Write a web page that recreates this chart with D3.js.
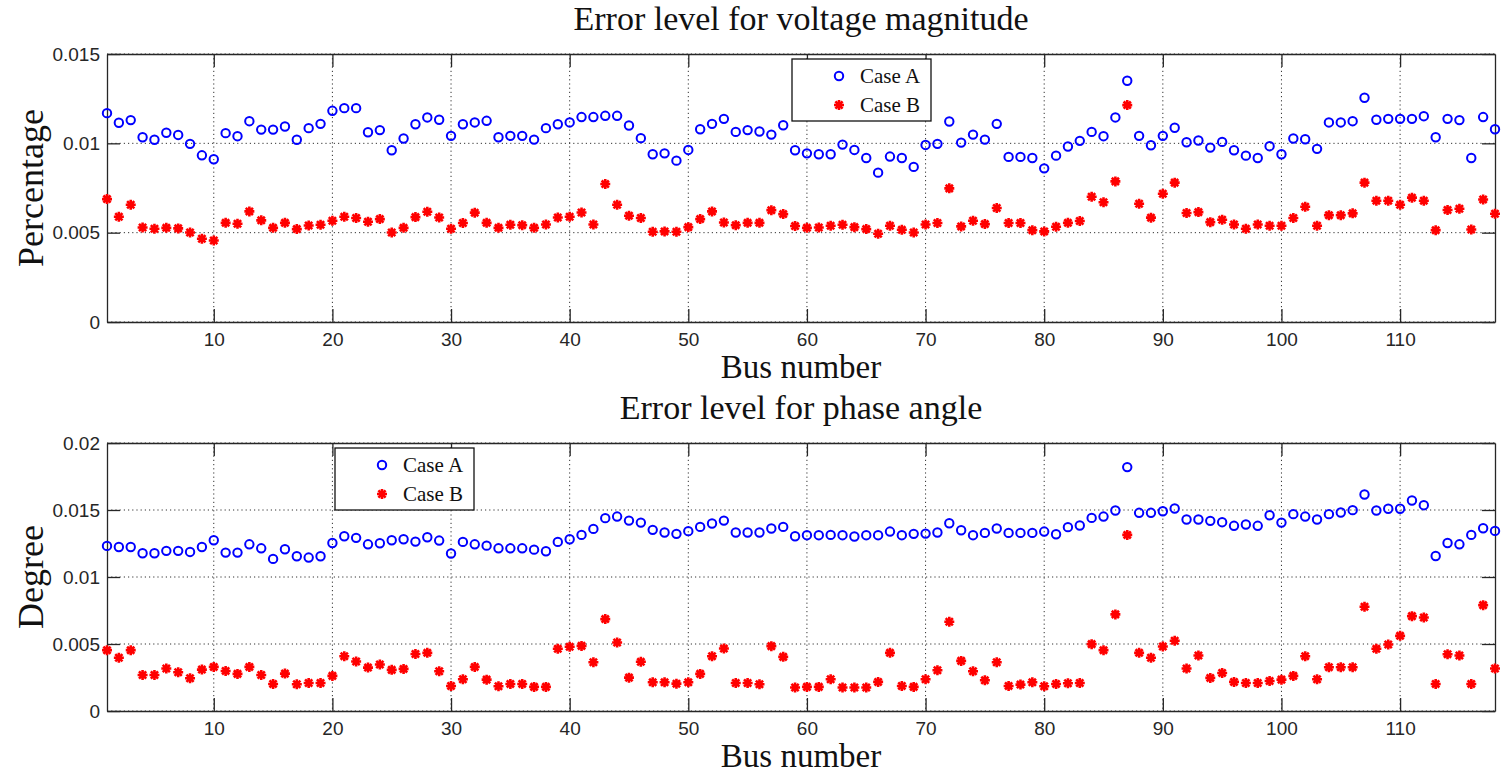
<!DOCTYPE html>
<html>
<head>
<meta charset="utf-8">
<script src="https://cdn.jsdelivr.net/npm/d3@7"></script>
<style>
  html, body { margin: 0; padding: 0; background: #fff; }
</style>
</head>
<body>
<div id="chart"></div>
<script>
// Dimensions
const width = 1507;
const height = 776;

// Data: error levels per bus (1..118)
const voltageCaseA = [
  0.01169, 0.01115, 0.0113, 0.01034, 0.0102, 0.01059, 0.01047, 0.00997, 0.00933, 0.00911,
  0.01057, 0.0104, 0.01124, 0.01077, 0.01077, 0.01094, 0.0102, 0.01085, 0.01109, 0.01182,
  0.01197, 0.01197, 0.01062, 0.01074, 0.00961, 0.01027, 0.01107, 0.01145, 0.01132, 0.01042,
  0.01107, 0.01117, 0.01126, 0.01034, 0.01042, 0.01042, 0.01021, 0.01085, 0.01107, 0.01117,
  0.01147, 0.01147, 0.01154, 0.01154, 0.011, 0.01029, 0.00939, 0.00944, 0.00903, 0.00963,
  0.01079, 0.01109, 0.01137, 0.01064, 0.01074, 0.01066, 0.01049, 0.01101, 0.00961, 0.00944,
  0.00939, 0.00939, 0.00993, 0.00963, 0.00918, 0.00836, 0.00926, 0.00918, 0.00868, 0.00991,
  0.00997, 0.01122, 0.01004, 0.01049, 0.01021, 0.01109, 0.00924, 0.00924, 0.00918, 0.0086,
  0.00931, 0.00982, 0.01014, 0.01064, 0.0104, 0.01145, 0.0135, 0.01042, 0.00989, 0.01042,
  0.01087, 0.01006, 0.01016, 0.00976, 0.01008, 0.00961, 0.00931, 0.00918, 0.00984, 0.00939,
  0.01027, 0.01023, 0.00969, 0.01117, 0.01117, 0.01124, 0.01255, 0.01132, 0.01137, 0.01137,
  0.01137, 0.01152, 0.01034, 0.01137, 0.0113, 0.00918, 0.01147, 0.01079
];
const voltageCaseB = [
  0.00688, 0.00589, 0.00656, 0.00529, 0.00522, 0.00527, 0.00524, 0.00501, 0.00466, 0.00456,
  0.00555, 0.0055, 0.00619, 0.00569, 0.00527, 0.00555, 0.0052, 0.0054, 0.00544, 0.00567,
  0.00589, 0.00582, 0.00561, 0.00576, 0.00501, 0.00527, 0.00587, 0.00617, 0.00585, 0.00522,
  0.00554, 0.00612, 0.00555, 0.00527, 0.00544, 0.00542, 0.00527, 0.00546, 0.00585, 0.00589,
  0.00613, 0.00546, 0.00772, 0.00656, 0.00595, 0.00582, 0.00505, 0.00507, 0.00505, 0.00531,
  0.00576, 0.00619, 0.00557, 0.00542, 0.00555, 0.00555, 0.00626, 0.00604, 0.00537, 0.00527,
  0.00529, 0.00539, 0.00544, 0.00531, 0.0052, 0.00494, 0.00539, 0.00516, 0.00501, 0.00546,
  0.00554, 0.00748, 0.00535, 0.00567, 0.00548, 0.00638, 0.00554, 0.00554, 0.00514, 0.00507,
  0.00533, 0.00555, 0.00565, 0.00701, 0.0067, 0.00787, 0.01214, 0.00662, 0.00584, 0.00718,
  0.0078, 0.0061, 0.00615, 0.00559, 0.00572, 0.00546, 0.00522, 0.00546, 0.00539, 0.00539,
  0.00582, 0.00645, 0.00539, 0.00598, 0.00598, 0.00608, 0.0078, 0.00679, 0.00679, 0.00656,
  0.00696, 0.00679, 0.00514, 0.00627, 0.00634, 0.00518, 0.00686, 0.00606
];
const angleCaseA = [
  0.01232, 0.01224, 0.01224, 0.01177, 0.01177, 0.01195, 0.01195, 0.01187, 0.01224, 0.01274,
  0.01182, 0.01182, 0.01244, 0.01214, 0.01135, 0.01207, 0.01155, 0.01145, 0.01155, 0.01254,
  0.01304, 0.01292, 0.01244, 0.01252, 0.01274, 0.01282, 0.01264, 0.01297, 0.01272, 0.01175,
  0.01262, 0.01244, 0.01234, 0.01214, 0.01214, 0.01214, 0.01204, 0.01192, 0.01262, 0.01282,
  0.01314, 0.01359, 0.01439, 0.01451, 0.01421, 0.01406, 0.01352, 0.01332, 0.01322, 0.01342,
  0.01374, 0.01399, 0.01421, 0.01332, 0.01332, 0.01332, 0.01362, 0.01374, 0.01304, 0.01312,
  0.01312, 0.01314, 0.01312, 0.01302, 0.01312, 0.01312, 0.01339, 0.01312, 0.01322, 0.01324,
  0.01332, 0.01401, 0.01349, 0.01312, 0.01329, 0.01362, 0.01329, 0.01329, 0.01329, 0.01339,
  0.01319, 0.01372, 0.01384, 0.01441, 0.01451, 0.01496, 0.0182, 0.01479, 0.01479, 0.01491,
  0.01511, 0.01429, 0.01429, 0.01419, 0.01409, 0.01382, 0.01392, 0.01382, 0.01461, 0.01406,
  0.01469, 0.01451, 0.01429, 0.01469, 0.01481, 0.01499, 0.01616, 0.01496, 0.01509, 0.01509,
  0.01571, 0.01536, 0.01157, 0.01254, 0.01244, 0.01314, 0.01364, 0.01344
];
const angleCaseB = [
  0.00454, 0.00397, 0.00454, 0.00269, 0.00269, 0.00317, 0.00289, 0.00244, 0.00309, 0.00329,
  0.00299, 0.00277, 0.00329, 0.00269, 0.00202, 0.00279, 0.002, 0.00209, 0.00209, 0.00262,
  0.00409, 0.00369, 0.00324, 0.00347, 0.00307, 0.00314, 0.00425, 0.00434, 0.00297, 0.00187,
  0.00237, 0.00329, 0.00234, 0.00185, 0.00202, 0.00202, 0.0018, 0.0018, 0.00464, 0.00479,
  0.00486, 0.00364, 0.00686, 0.00511, 0.00249, 0.00367, 0.00214, 0.00214, 0.00204, 0.00214,
  0.00277, 0.00409, 0.00466, 0.00209, 0.00209, 0.002, 0.00484, 0.00404, 0.00175, 0.0018,
  0.0018, 0.00237, 0.00175, 0.00175, 0.00175, 0.00217, 0.00434, 0.00187, 0.0018, 0.00237,
  0.00304, 0.00666, 0.00374, 0.00297, 0.00229, 0.00364, 0.00187, 0.00197, 0.00214, 0.00185,
  0.00202, 0.00207, 0.00209, 0.00499, 0.00454, 0.00721, 0.01314, 0.00434, 0.00397, 0.00481,
  0.00524, 0.00317, 0.00414, 0.00247, 0.00284, 0.00217, 0.00209, 0.00209, 0.00224, 0.00234,
  0.00262, 0.00409, 0.00237, 0.00327, 0.00327, 0.00327, 0.00778, 0.00464, 0.00496, 0.00561,
  0.00708, 0.00698, 0.00202, 0.00424, 0.00414, 0.00202, 0.0079, 0.00317
];

// Tick values
const xTicks = [10, 20, 30, 40, 50, 60, 70, 80, 90, 100, 110];
const voltageTicks = [0, 0.005, 0.01, 0.015];
const angleTicks = [0, 0.005, 0.01, 0.015, 0.02];
const seriesNames = ["Case A", "Case B"];

const svg = d3
  .select("#chart")
  .append("svg")
  .attr("width", width)
  .attr("height", height)
  .style("display", "block")
  .style("background", "#fff");

const serif = "'Liberation Serif', 'Times New Roman', serif";
const sans = "'Liberation Sans', Arial, sans-serif";

// Shared x scale
const x = d3.scaleLinear().domain([1, 118]).range([107, 1495]);

// Asterisk marker (MATLAB '*')
function star(cx, cy, s) {
  const d = s * 0.72;
  return `M${cx - s},${cy}L${cx + s},${cy}M${cx},${cy - s}L${cx},${cy + s}` +
    `M${cx - d},${cy - d}L${cx + d},${cy + d}M${cx - d},${cy + d}L${cx + d},${cy - d}`;
}

function drawPanel(opts) {
  const { top, bottom, yMax, yTicks, seriesA, seriesB, title, yLabel, legendX } = opts;
  const y = d3.scaleLinear().domain([0, yMax]).range([bottom, top]);
  const g = svg.append("g");
  const left = x.range()[0];
  const right = x.range()[1];

  // grid
  g.selectAll(".gx")
    .data(xTicks)
    .join("line")
    .attr("x1", d => x(d))
    .attr("x2", d => x(d))
    .attr("y1", top)
    .attr("y2", bottom)
    .attr("stroke", "#333")
    .attr("stroke-width", 1)
    .attr("stroke-dasharray", "1.2,3");

  g.selectAll(".gy")
    .data(yTicks)
    .join("line")
    .attr("x1", left)
    .attr("x2", right)
    .attr("y1", d => y(d))
    .attr("y2", d => y(d))
    .attr("stroke", "#333")
    .attr("stroke-width", 1)
    .attr("stroke-dasharray", "1.2,3");

  // axes (box with inward ticks)
  const tick = 13;
  const xAxisB = d3.axisBottom(x).tickValues(xTicks).tickSize(-tick).tickPadding(11).tickSizeOuter(0);
  const xAxisT = d3.axisTop(x).tickValues(xTicks).tickSize(-tick).tickFormat("").tickSizeOuter(0);
  const yAxisL = d3.axisLeft(y).tickValues(yTicks).tickSize(-tick).tickPadding(7).tickSizeOuter(0)
    .tickFormat(d => d === 0 ? "0" : String(+d.toFixed(3)));
  const yAxisR = d3.axisRight(y).tickValues(yTicks).tickSize(-tick).tickFormat("").tickSizeOuter(0);

  const axes = [
    g.append("g").attr("transform", `translate(0,${bottom})`).call(xAxisB),
    g.append("g").attr("transform", `translate(0,${top})`).call(xAxisT),
    g.append("g").attr("transform", `translate(${left},0)`).call(yAxisL),
    g.append("g").attr("transform", `translate(${right},0)`).call(yAxisR)
  ];
  axes.forEach(a => {
    a.select(".domain").attr("stroke", "#262626").attr("stroke-width", 1.3);
    a.selectAll(".tick line").attr("stroke", "#262626").attr("stroke-width", 1.3);
    a.selectAll(".tick text")
      .attr("font-family", sans)
      .attr("font-size", "19px")
      .attr("fill", "#262626");
  });

  // series B (red asterisks)
  g.selectAll(".b")
    .data(seriesB)
    .join("path")
    .attr("d", (d, i) => star(x(i + 1), y(d), 5))
    .attr("stroke", "#ff0000")
    .attr("stroke-width", 2.6)
    .attr("fill", "none");

  // series A (blue circles)
  g.selectAll(".a")
    .data(seriesA)
    .join("circle")
    .attr("cx", (d, i) => x(i + 1))
    .attr("cy", d => y(d))
    .attr("r", 4.2)
    .attr("fill", "none")
    .attr("stroke", "#0000ff")
    .attr("stroke-width", 2);

  // title
  svg.append("text")
    .attr("x", (left + right) / 2)
    .attr("y", top - 24)
    .attr("text-anchor", "middle")
    .attr("font-family", serif)
    .attr("font-size", "34px")
    .attr("fill", "#111")
    .text(title);

  // x label
  svg.append("text")
    .attr("x", (left + right) / 2)
    .attr("y", bottom + 56)
    .attr("text-anchor", "middle")
    .attr("font-family", serif)
    .attr("font-size", "33px")
    .attr("fill", "#111")
    .text("Bus number");

  // y label
  svg.append("text")
    .attr("transform", `translate(43,${(top + bottom) / 2}) rotate(-90)`)
    .attr("text-anchor", "middle")
    .attr("font-family", serif)
    .attr("font-size", "36px")
    .attr("fill", "#111")
    .text(yLabel);

  // legend
  const lg = svg.append("g").attr("transform", `translate(${legendX},${top + 5})`);
  lg.append("rect")
    .attr("width", 139)
    .attr("height", 62)
    .attr("fill", "#fff")
    .attr("stroke", "#111")
    .attr("stroke-width", 1.3);
  lg.append("circle")
    .attr("cx", 47)
    .attr("cy", 17)
    .attr("r", 4.2)
    .attr("fill", "none")
    .attr("stroke", "#0000ff")
    .attr("stroke-width", 2);
  lg.append("path")
    .attr("d", star(47, 46, 5))
    .attr("stroke", "#ff0000")
    .attr("stroke-width", 2.6)
    .attr("fill", "none");
  lg.selectAll(".lt")
    .data(seriesNames)
    .join("text")
    .attr("x", 68)
    .attr("y", (d, i) => 24 + i * 29)
    .attr("font-family", serif)
    .attr("font-size", "21px")
    .attr("fill", "#111")
    .text(d => d);
}

drawPanel({
  top: 54,
  bottom: 322,
  yMax: 0.015,
  yTicks: voltageTicks,
  seriesA: voltageCaseA,
  seriesB: voltageCaseB,
  title: "Error level for voltage magnitude",
  yLabel: "Percentage",
  legendX: 792
});

drawPanel({
  top: 443,
  bottom: 711,
  yMax: 0.02,
  yTicks: angleTicks,
  seriesA: angleCaseA,
  seriesB: angleCaseB,
  title: "Error level for phase angle",
  yLabel: "Degree",
  legendX: 335
});
</script>
</body>
</html>
